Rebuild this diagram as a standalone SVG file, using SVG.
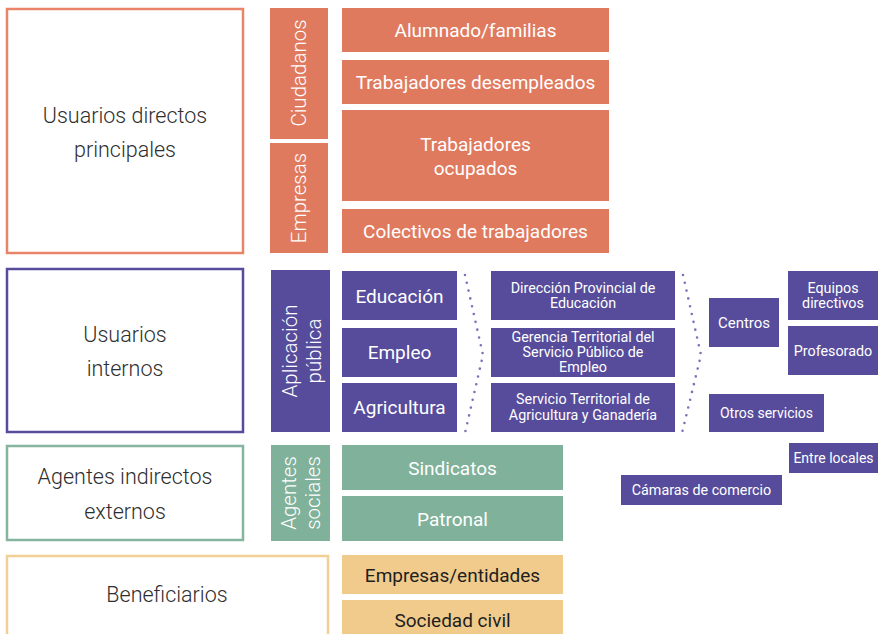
<svg xmlns="http://www.w3.org/2000/svg" width="878" height="634" viewBox="0 0 878 634">
<style>
text{font-family:Roboto,"Liberation Sans",sans-serif;text-anchor:middle}
.big{font-size:21.5px;font-weight:300;fill:#2e2e2e}
.side{font-size:20.5px;font-weight:300;fill:#fff}
.lbl{font-size:19px;fill:#fff}
.dark{font-size:19px;fill:#1e1e1e}
.sm{font-size:14.3px;fill:#fff}
.o{fill:#E07A5F}.p{fill:#564C9B}.g{fill:#80B19A}.y{fill:#F0CB8C}
.frame{fill:#fff;stroke-width:2.5}
.dots{fill:none;stroke:#7C72B8;stroke-width:2.6;stroke-linecap:round;stroke-dasharray:0 8}
</style>
<rect width="878" height="634" fill="#fff"/>

<g id="usuarios-directos">
<rect class="frame" x="7" y="9" width="236" height="244" stroke="#E8846A"/>
<text class="big" x="125" y="123">Usuarios directos</text>
<text class="big" x="125" y="157">principales</text>
</g>
<g id="ciudadanos">
<rect class="o" x="270" y="8" width="58" height="131"/>
<text class="side" transform="translate(306,73) rotate(-90)">Ciudadanos</text>
</g>
<g id="empresas">
<rect class="o" x="270" y="143" width="58" height="110"/>
<text class="side" transform="translate(306,198) rotate(-90)">Empresas</text>
</g>
<g id="alumnado">
<rect class="o" x="342" y="8" width="267" height="44"/>
<text class="lbl" x="475.5" y="37">Alumnado/familias</text>
</g>
<g id="desempleados">
<rect class="o" x="342" y="60" width="267" height="44"/>
<text class="lbl" x="475.5" y="89">Trabajadores desempleados</text>
</g>
<g id="ocupados">
<rect class="o" x="342" y="110" width="267" height="91"/>
<text class="lbl" x="475.5" y="151">Trabajadores</text>
<text class="lbl" x="475.5" y="175">ocupados</text>
</g>
<g id="colectivos">
<rect class="o" x="342" y="209" width="267" height="44"/>
<text class="lbl" x="475.5" y="238">Colectivos de trabajadores</text>
</g>

<g id="usuarios-internos">
<rect class="frame" x="7" y="269" width="236" height="163" stroke="#564C9B"/>
<text class="big" x="125" y="342">Usuarios</text>
<text class="big" x="125" y="376">internos</text>
</g>
<g id="aplicacion-publica">
<rect class="p" x="271" y="270" width="59" height="162"/>
<text class="side" transform="translate(297,351) rotate(-90)">Aplicación</text>
<text class="side" transform="translate(321,351) rotate(-90)">pública</text>
</g>
<g id="educacion">
<rect class="p" x="342" y="271" width="115" height="49"/>
<text class="lbl" x="399.5" y="303">Educación</text>
</g>
<g id="empleo">
<rect class="p" x="342" y="328" width="115" height="49"/>
<text class="lbl" x="399.5" y="359">Empleo</text>
</g>
<g id="agricultura">
<rect class="p" x="342" y="383" width="115" height="49"/>
<text class="lbl" x="399.5" y="414">Agricultura</text>
</g>
<g id="direccion-provincial">
<rect class="p" x="491" y="271" width="184" height="49"/>
<text class="sm" x="583" y="293">Dirección Provincial de</text>
<text class="sm" x="583" y="308">Educación</text>
</g>
<g id="gerencia-territorial">
<rect class="p" x="491" y="328" width="184" height="49"/>
<text class="sm" x="583" y="342">Gerencia Territorial del</text>
<text class="sm" x="583" y="357">Servicio Público de</text>
<text class="sm" x="583" y="372">Empleo</text>
</g>
<g id="servicio-territorial">
<rect class="p" x="491" y="383" width="184" height="49"/>
<text class="sm" x="583" y="404">Servicio Territorial de</text>
<text class="sm" x="583" y="420">Agricultura y Ganadería</text>
</g>
<g id="centros">
<rect class="p" x="709" y="298" width="70" height="49"/>
<text class="sm" x="744" y="328" style="font-size:15px">Centros</text>
</g>
<g id="equipos-directivos">
<rect class="p" x="788" y="271" width="90" height="49"/>
<text class="sm" x="833" y="293">Equipos</text>
<text class="sm" x="833" y="308">directivos</text>
</g>
<g id="profesorado">
<rect class="p" x="788" y="326" width="90" height="49"/>
<text class="sm" x="833" y="356">Profesorado</text>
</g>
<g id="otros-servicios">
<rect class="p" x="709" y="394" width="115" height="38"/>
<text class="sm" x="766.5" y="418" style="font-size:14px">Otros servicios</text>
</g>
<g id="entre-locales">
<rect class="p" x="789" y="443" width="89" height="30"/>
<text class="sm" x="833.5" y="463" style="font-size:14px">Entre locales</text>
</g>
<g id="camaras-comercio">
<rect class="p" x="621" y="475" width="161" height="30"/>
<text class="sm" x="701.5" y="495">Cámaras de comercio</text>
</g>

<g id="agentes-indirectos">
<rect class="frame" x="7" y="446" width="236" height="94" stroke="#86B59F"/>
<text class="big" x="125" y="484">Agentes indirectos</text>
<text class="big" x="125" y="519">externos</text>
</g>
<g id="agentes-sociales">
<rect class="g" x="271" y="445" width="59" height="96"/>
<text class="side" transform="translate(296,493) rotate(-90)">Agentes</text>
<text class="side" transform="translate(320,493) rotate(-90)">sociales</text>
</g>
<g id="sindicatos">
<rect class="g" x="342" y="445" width="221" height="45"/>
<text class="lbl" x="452.5" y="475">Sindicatos</text>
</g>
<g id="patronal">
<rect class="g" x="342" y="496" width="221" height="45"/>
<text class="lbl" x="452.5" y="526">Patronal</text>
</g>

<g id="beneficiarios">
<rect class="frame" x="7" y="556" width="321" height="80" stroke="#F2CF94"/>
<text class="big" x="167" y="602">Beneficiarios</text>
</g>
<g id="empresas-entidades">
<rect class="y" x="342" y="555" width="221" height="39"/>
<text class="dark" x="452.5" y="582">Empresas/entidades</text>
</g>
<g id="sociedad-civil">
<rect class="y" x="342" y="600" width="221" height="34"/>
<text class="dark" x="452.5" y="627">Sociedad civil</text>
</g>

<g id="connectors">
<path class="dots" d="M465,275 L483,355 L465,433"/>
<path class="dots" d="M683,275 L701,355 L682,433"/>
</g>
</svg>
